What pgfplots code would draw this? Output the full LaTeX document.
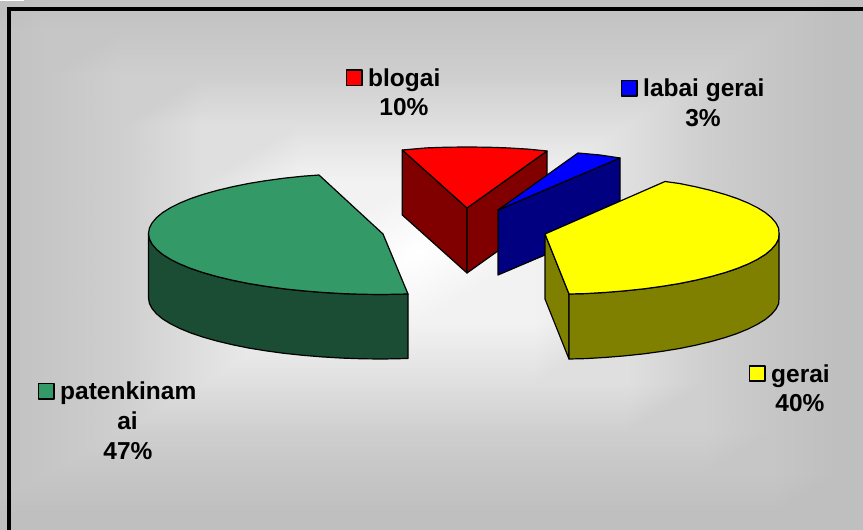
\documentclass[border=0pt]{standalone}
\usepackage{fontspec}
\setmainfont{Liberation Sans}
\usepackage{pgfplots}
\pgfplotsset{compat=1.18}
\definecolor{grT}{HTML}{339966}\definecolor{grS}{HTML}{1A4D33}
\definecolor{yeT}{HTML}{FFFF00}\definecolor{yeS}{HTML}{808000}
\definecolor{reT}{HTML}{FF0000}\definecolor{reS}{HTML}{800000}
\definecolor{blT}{HTML}{0000FF}\definecolor{blS}{HTML}{000080}
\newcommand{\lab}{\fontsize{24.5}{29}\selectfont\bfseries}
\begin{document}
\begin{tikzpicture}
\begin{axis}[
  scale only axis, width=863pt, height=530pt,
  xmin=0, xmax=863, ymin=0, ymax=530, y dir=reverse,
  hide axis, colormap/blackwhite, point meta min=0, point meta max=1,
  line join=round,
]
% background
\addplot[matrix plot*, shader=interp, mesh/cols=11, point meta=explicit] table[meta=c] {
x y c
9 9 .75
80 9 .75
160 9 .75
245 9 .75
353 9 .75
480 9 .75
583 9 .75
671 9 .75
740 9 .75
806 9 .75
863 9 .75
9 51 .75
80 51 .775
160 51 .775
245 51 .775
353 51 .775
480 51 .775
583 51 .775
671 51 .775
740 51 .775
806 51 .775
863 51 .75
9 99 .75
80 99 .775
160 99 .81
245 99 .81
353 99 .81
480 99 .81
583 99 .81
671 99 .81
740 99 .81
806 99 .775
863 99 .75
9 150 .75
80 150 .775
160 150 .81
245 150 .875
353 150 .875
480 150 .875
583 150 .875
671 150 .875
740 150 .81
806 150 .775
863 150 .75
9 214 .75
80 214 .775
160 214 .81
245 214 .875
353 214 .95
480 214 .95
583 214 .95
671 214 .875
740 214 .81
806 214 .775
863 214 .75
9 290 .75
80 290 .775
160 290 .81
245 290 .875
353 290 .95
480 290 1
583 290 .95
671 290 .875
740 290 .81
806 290 .775
863 290 .75
9 355 .75
80 355 .775
160 355 .81
245 355 .875
353 355 .95
480 355 .95
583 355 .95
671 355 .875
740 355 .81
806 355 .775
863 355 .75
9 410 .75
80 410 .775
160 410 .81
245 410 .875
353 410 .875
480 410 .875
583 410 .875
671 410 .875
740 410 .81
806 410 .775
863 410 .75
9 453 .75
80 453 .775
160 453 .81
245 453 .81
353 453 .81
480 453 .81
583 453 .81
671 453 .81
740 453 .81
806 453 .775
863 453 .75
9 494 .75
80 494 .775
160 494 .775
245 494 .775
353 494 .775
480 494 .775
583 494 .775
671 494 .775
740 494 .775
806 494 .775
863 494 .75
9 530 .75
80 530 .75
160 530 .75
245 530 .75
353 530 .75
480 530 .75
583 530 .75
671 530 .75
740 530 .75
806 530 .75
863 530 .75
};
% frame
\addplot[black, line width=3.4pt, line join=miter] coordinates {(9,540) (9,9) (880,9)};
% red
\addplot[fill=reS, draw=black, line width=1.2pt] coordinates {(402.3,150)(467,208)(467,273)(402.3,215)} -- cycle;
\addplot[fill=reS, draw=black, line width=1.2pt] coordinates {(467,208)(547,151)(547,216)(467,273)} -- cycle;
\addplot[fill=reT, draw=black, line width=1.2pt] coordinates {(467,208)(402.3,150)(426.3,147.9)(446.6,147.2)(467,147)(487.4,147.2)(507.7,147.9)(527.7,149.1)(547,151)} -- cycle;
% blue
\addplot[fill=blS, draw=black, line width=1.2pt] coordinates {(498,210)(620,158)(620,223)(498,275)} -- cycle;
\addplot[fill=blT, draw=black, line width=1.2pt] coordinates {(498,210)(578,153)(600,155)(620,158)} -- cycle;
% green
\addplot[fill=grS, draw=black, line width=1.2pt] coordinates {(148.5,233.5)(149.4,238.8)(152.1,244.1)(156.5,249.3)(162.6,254.4)(170.5,259.3)(179.9,264)(190.9,268.5)(203.4,272.7)(217.2,276.6)(232.3,280.2)(248.5,283.5)(265.7,286.3)(283.9,288.8)(302.8,290.8)(322.3,292.4)(342.3,293.6)(362.6,294.3)(383,294.5)(408,294)(408,358.5)(383,359)(362.6,358.8)(342.3,358.1)(322.3,356.9)(302.8,355.3)(283.9,353.3)(265.7,350.8)(248.5,348)(232.3,344.7)(217.2,341.1)(203.4,337.2)(190.9,333)(179.9,328.5)(170.5,323.8)(162.6,318.9)(156.5,313.8)(152.1,308.6)(149.4,303.3)(148.5,298)} -- cycle;
\addplot[fill=grT, draw=black, line width=1.2pt] coordinates {(383,234)(319,175)(302.8,176.2)(283.9,178.2)(265.7,180.7)(248.5,183.5)(232.3,186.8)(217.2,190.4)(203.4,194.3)(190.9,198.5)(179.9,203)(170.5,207.7)(162.6,212.6)(156.5,217.7)(152.1,222.9)(149.4,228.2)(148.5,233.5)(149.4,238.8)(152.1,244.1)(156.5,249.3)(162.6,254.4)(170.5,259.3)(179.9,264)(190.9,268.5)(203.4,272.7)(217.2,276.6)(232.3,280.2)(248.5,283.5)(265.7,286.3)(283.9,288.8)(302.8,290.8)(322.3,292.4)(342.3,293.6)(362.6,294.3)(383,294.5)(408,294)} -- cycle;
% yellow
\addplot[fill=yeS, draw=black, line width=1.2pt] coordinates {(545,234)(569,294)(569,359)(545,299)} -- cycle;
\addplot[fill=yeS, draw=black, line width=1.2pt] coordinates {(569,294)(585.7,293.6)(605.7,292.4)(625.2,290.8)(644.1,288.8)(662.3,286.3)(679.5,283.5)(695.7,280.2)(710.8,276.6)(724.6,272.7)(737.1,268.5)(748.1,264)(757.5,259.3)(765.4,254.4)(771.5,249.3)(775.9,244.1)(778.6,238.8)(779,233.5)(779,298.5)(778.6,303.8)(775.9,309.1)(771.5,314.3)(765.4,319.4)(757.5,324.3)(748.1,329)(737.1,333.5)(724.6,337.7)(710.8,341.6)(695.7,345.2)(679.5,348.5)(662.3,351.3)(644.1,353.8)(625.2,355.8)(605.7,357.4)(585.7,358.6)(569,359)} -- cycle;
\addplot[fill=yeT, draw=black, line width=1.2pt] coordinates {(545,234)(665,181.5)(679.5,183.5)(695.7,186.8)(710.8,190.4)(724.6,194.3)(737.1,198.5)(748.1,203)(757.5,207.7)(765.4,212.6)(771.5,217.7)(775.9,222.9)(778.6,228.2)(779,233.5)(778.6,238.8)(775.9,244.1)(771.5,249.3)(765.4,254.4)(757.5,259.3)(748.1,264)(737.1,268.5)(724.6,272.7)(710.8,276.6)(695.7,280.2)(679.5,283.5)(662.3,286.3)(644.1,288.8)(625.2,290.8)(605.7,292.4)(585.7,293.6)(569,294)} -- cycle;
% legend keys
\addplot[fill=reT, draw=black, line width=1.2pt] coordinates {(346.5,70)(362,70)(362,85.5)(346.5,85.5)} -- cycle;
\addplot[fill=blT, draw=black, line width=1.2pt] coordinates {(621.5,80.5)(637,80.5)(637,96)(621.5,96)} -- cycle;
\addplot[fill=yeT, draw=black, line width=1.2pt] coordinates {(749.5,366)(765,366)(765,381)(749.5,381)} -- cycle;
\addplot[fill=grT, draw=black, line width=1.2pt] coordinates {(38.5,383.5)(54,383.5)(54,399)(38.5,399)} -- cycle;
% labels
\node[anchor=base west, inner sep=0pt, font=\lab] at (axis cs:368,86) {blogai};
\node[anchor=base, inner sep=0pt, font=\lab] at (axis cs:404,115.5) {10\%};
\node[anchor=base west, inner sep=0pt, font=\lab] at (axis cs:643,96) {labai gerai};
\node[anchor=base, inner sep=0pt, font=\lab] at (axis cs:703,126) {3\%};
\node[anchor=base west, inner sep=0pt, font=\lab] at (axis cs:771,382) {gerai};
\node[anchor=base, inner sep=0pt, font=\lab] at (axis cs:800,411.5) {40\%};
\node[anchor=base west, inner sep=0pt, font=\lab] at (axis cs:60,399.5) {patenkinam};
\node[anchor=base, inner sep=0pt, font=\lab] at (axis cs:127.5,429.5) {ai};
\node[anchor=base, inner sep=0pt, font=\lab] at (axis cs:128,459) {47\%};
\end{axis}
\end{tikzpicture}
\end{document}
